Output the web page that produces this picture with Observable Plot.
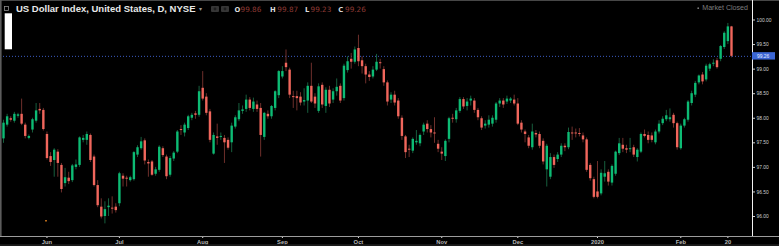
<!DOCTYPE html>
<html><head><meta charset="utf-8">
<script src="https://cdn.jsdelivr.net/npm/d3@7"></script>
<script src="https://cdn.jsdelivr.net/npm/@observablehq/plot@0.6"></script>
<style>
html,body{margin:0;padding:0;background:#000;}
#wrap{position:relative;width:779px;height:246px;overflow:hidden;background:#000;}
#chart svg{display:block;}
#overlay{position:absolute;left:0;top:0;pointer-events:none;}
</style></head><body>
<div id="wrap"><div id="chart"></div><svg id="overlay" width="779" height="246"></svg></div>
<script>
// ---- data ----
const firstDay = "2019-05-16";
const lastDay = "2020-02-21";
const tickDates = ["2019-06-03","2019-07-01","2019-08-01","2019-09-02","2019-10-01","2019-11-01","2019-12-02","2020-01-01","2020-02-03","2020-02-20"];
const tickLabels = ["Jun","Jul","Aug","Sep","Oct","Nov","Dec","2020","Feb","20"];
const yTicks = [96, 96.5, 97, 97.5, 98, 98.5, 99, 99.5, 100];

const opens = [
97.58,97.86,97.99,97.94,98.04,98.08,97.86,97.59,97.76,97.94,
98.18,98.16,97.67,97.22,97.14,97.31,97.04,96.67,96.78,96.73,
97.00,97.04,97.55,97.55,97.65,97.21,96.63,96.19,96.00,96.18,
96.17,96.19,96.26,96.82,96.78,96.73,96.75,97.25,97.38,97.54,
97.10,97.11,96.86,96.94,97.38,97.21,96.84,97.17,97.31,97.77,
97.70,97.79,98.00,98.09,98.06,98.61,98.43,98.13,97.27,97.62,
97.61,97.59,97.55,97.50,97.82,97.97,98.14,98.18,98.37,98.18,
98.27,98.20,97.61,98.08,98.03,98.20,98.46,98.84,99.12,98.98,
98.44,98.44,98.43,98.33,98.35,98.65,98.43,98.14,98.67,98.24,
98.57,98.37,98.54,98.65,98.40,98.97,99.20,99.14,99.42,99.17,
99.05,98.88,98.84,98.98,99.13,98.99,98.72,98.37,98.47,98.35,
98.00,97.62,97.37,97.33,97.50,97.48,97.72,97.88,97.77,97.70,
97.47,97.31,97.22,97.57,98.00,97.97,98.14,98.38,98.24,98.35,
98.35,98.16,97.99,97.84,97.86,97.88,97.96,98.29,98.35,98.33,
98.35,98.37,98.29,97.90,97.72,97.60,97.40,97.69,97.67,97.53,
96.95,96.80,97.20,97.16,97.25,97.43,97.40,97.70,97.70,97.69,
97.64,97.56,97.04,96.75,96.50,96.46,96.80,96.90,96.68,96.86,
97.28,97.45,97.38,97.36,97.40,97.20,97.31,97.67,97.65,97.64,
97.50,97.72,97.89,97.97,97.97,98.06,97.89,97.38,97.84,97.96,
98.30,98.47,98.72,98.88,98.78,99.00,99.10,99.17,99.20,99.44,
99.56,99.86];
const highs = [
97.96,98.08,98.03,98.12,98.10,98.39,97.90,97.66,98.00,98.30,
98.30,98.20,97.72,97.30,97.38,97.36,97.08,96.98,96.90,97.06,
97.15,97.62,97.65,97.72,97.68,97.25,96.73,96.36,96.30,96.36,
96.40,96.26,96.90,96.87,96.82,96.82,97.32,97.44,97.61,97.58,
97.15,97.14,97.00,97.44,97.42,97.25,97.22,97.32,97.75,97.85,
97.90,98.06,98.10,98.14,98.65,98.95,98.50,98.18,97.70,97.88,
97.70,97.65,97.60,97.90,98.05,98.30,98.25,98.47,98.42,98.41,
98.35,98.30,98.12,98.15,98.26,98.56,98.97,99.05,99.39,99.02,
98.55,98.55,98.52,98.60,98.72,99.12,98.50,98.70,98.72,98.62,
98.65,98.60,98.80,98.70,99.10,99.25,99.32,99.45,99.69,99.25,
99.10,98.95,99.05,99.30,99.20,99.05,98.76,98.52,98.55,98.40,
98.05,97.65,97.45,97.60,97.75,97.68,97.90,97.95,97.85,98.01,
97.55,97.40,97.56,98.02,98.08,98.20,98.42,98.42,98.40,98.45,
98.40,98.20,98.03,97.95,98.05,98.05,98.32,98.40,98.40,98.45,
98.42,98.47,98.40,97.95,97.76,97.65,97.88,97.75,97.72,97.58,
97.47,97.28,97.25,97.30,97.48,97.48,97.80,97.82,97.78,97.79,
97.70,97.60,97.08,96.80,97.12,96.95,97.12,96.95,97.05,97.33,
97.59,97.59,97.45,97.59,97.45,97.38,97.70,97.76,97.72,97.70,
97.76,97.95,98.03,98.16,98.19,98.10,97.92,97.88,98.00,98.36,
98.55,98.75,98.88,98.93,99.10,99.12,99.19,99.22,99.48,99.76,
99.93,99.87];
const lows = [
97.49,97.82,97.92,97.90,98.00,97.85,97.58,97.56,97.70,97.90,
98.08,97.74,97.15,97.02,96.80,96.80,96.48,96.60,96.65,96.69,
96.95,97.00,97.50,97.45,97.10,96.60,96.18,95.95,95.85,96.00,
96.05,96.07,96.20,96.60,96.60,96.70,96.72,97.20,97.35,97.05,
96.80,96.82,96.82,96.90,97.20,96.75,96.80,97.12,97.28,97.65,
97.62,97.75,97.95,97.98,98.02,98.35,98.05,97.50,97.25,97.45,
97.55,97.08,97.35,97.30,97.78,97.93,98.08,98.12,98.15,98.12,
98.12,97.21,97.55,97.98,97.98,98.15,98.40,98.80,98.95,98.40,
98.20,98.15,98.25,98.25,98.10,98.30,98.20,98.10,98.20,98.10,
98.22,98.30,98.45,98.30,98.35,98.92,99.00,99.10,99.05,98.90,
98.70,98.75,98.80,98.95,99.00,98.65,98.25,98.30,98.25,97.98,
97.55,97.18,97.20,97.28,97.45,97.42,97.65,97.70,97.60,97.49,
97.30,97.14,97.12,97.50,97.90,97.90,98.10,98.18,98.15,98.25,
98.10,97.95,97.75,97.78,97.80,97.82,97.90,98.22,98.20,98.28,
98.30,98.25,97.85,97.70,97.50,97.38,97.35,97.60,97.38,97.05,
96.60,96.75,96.98,97.10,97.20,97.32,97.36,97.55,97.60,97.62,
97.50,96.90,96.72,96.36,96.36,96.42,96.70,96.62,96.62,96.82,
97.24,97.30,97.28,97.30,97.20,97.11,97.28,97.60,97.48,97.50,
97.46,97.68,97.85,97.93,97.92,97.80,97.35,97.35,97.80,97.92,
98.25,98.42,98.68,98.68,98.74,98.95,99.05,99.00,99.15,99.40,
99.50,99.23];
const closes = [
97.90,98.03,97.96,98.08,98.07,97.88,97.63,97.63,97.97,98.15,
98.15,97.77,97.18,97.10,97.35,97.08,96.55,96.79,96.71,97.03,
97.05,97.60,97.59,97.67,97.14,96.63,96.22,95.99,96.14,96.21,
96.15,96.12,96.87,96.76,96.76,96.79,97.30,97.40,97.52,97.13,
97.07,96.84,96.95,97.41,97.24,96.81,97.18,97.29,97.72,97.75,
97.86,98.03,98.06,98.06,98.54,98.39,98.10,97.55,97.65,97.59,
97.63,97.50,97.39,97.84,98.01,98.15,98.17,98.37,98.20,98.33,
98.18,97.65,98.10,98.03,98.24,98.54,98.95,98.95,99.03,98.47,
98.42,98.40,98.31,98.36,98.65,98.33,98.29,98.64,98.27,98.57,
98.29,98.54,98.63,98.35,99.06,99.15,99.14,99.39,99.15,99.05,
98.88,98.83,98.98,99.14,99.11,98.72,98.33,98.47,98.31,98.03,
97.63,97.30,97.35,97.57,97.53,97.65,97.86,97.77,97.70,97.68,
97.37,97.27,97.53,97.99,97.98,98.15,98.38,98.23,98.33,98.39,
98.16,98.01,97.80,97.88,97.96,98.00,98.29,98.35,98.27,98.39,
98.39,98.29,97.88,97.76,97.67,97.43,97.72,97.66,97.43,97.11,
97.43,97.20,97.04,97.25,97.43,97.40,97.71,97.68,97.68,97.67,
97.56,96.94,96.77,96.39,96.39,96.88,96.87,96.70,97.02,97.31,
97.48,97.37,97.35,97.38,97.25,97.35,97.67,97.63,97.55,97.55,
97.72,97.88,97.98,98.05,98.01,97.89,97.40,97.84,97.97,98.33,
98.50,98.71,98.86,98.74,99.06,99.09,99.12,99.03,99.46,99.73,
99.86,99.26];

// ---- build table ----
const fmt = d3.utcFormat("%Y-%m-%d");
const days = d3.utcDays(new Date(firstDay), d3.utcDay.offset(new Date(lastDay), 1))
  .filter(d => d.getUTCDay() !== 0 && d.getUTCDay() !== 6);
const candles = days.slice(0, opens.length).map((d, i) => ({
  i, date: fmt(d), open: opens[i], high: highs[i], low: lows[i], close: closes[i]
}));
const tickIdx = tickDates.map(s => candles.findIndex(c => c.date === s));
const labelAt = new Map(tickIdx.map((t, k) => [t, tickLabels[k]]));
const last = candles[candles.length - 1];

const UP = "#0dbb74", DOWN = "#f0665c", WUP = "#1a6a45", WDOWN = "#7a3430";
const isUp = d => d.close >= d.open;

const chart = Plot.plot({
  width: 779, height: 246,
  marginLeft: 0, marginRight: 27, marginTop: 0, marginBottom: 10,
  style: {background: "#000", color: "#c4c4c4", fontFamily: "'Liberation Sans', Arial, sans-serif", overflow: "visible"},
  x: {type: "linear", domain: [-0.83, 206.8], label: null},
  y: {type: "linear", domain: [95.593, 100.397], label: null},
  color: {type: "identity"},
  marks: [
    Plot.ruleY([last.close], {stroke: "#3b5cc2", strokeWidth: 1, strokeDasharray: "1,2"}),
    Plot.ruleX(candles, {x: "i", y1: "low", y2: "high", stroke: d => isUp(d) ? WUP : WDOWN, strokeWidth: 0.9}),
    Plot.ruleX(candles, {x: "i", y1: "open", y2: "close", stroke: d => isUp(d) ? UP : DOWN, strokeWidth: 2.4}),
    Plot.axisY(yTicks, {anchor: "right", label: null, tickFormat: d => d.toFixed(2), tickSize: 2, tickPadding: 2, fontSize: 4.9, fill: "#cfcfcf", stroke: "#cfcfcf"}),
    Plot.axisX(tickIdx, {anchor: "bottom", label: null, tickFormat: i => labelAt.get(i), tickSize: 2, tickPadding: 1, fontSize: 5.8, fontWeight: "bold", fill: "#b8b8b8", stroke: "#dddddd"})
  ]
});
document.getElementById("chart").appendChild(chart);

// ---- chrome overlay ----
const yPrice = chart.scale("y").apply(last.close);
const ov = d3.select("#overlay");
ov.append("rect").attr("x", 0).attr("y", 0).attr("width", 779).attr("height", 1).attr("fill", "#474747");
ov.append("rect").attr("x", 0).attr("y", 0).attr("width", 1.6).attr("height", 236).attr("fill", "#5c5c5c");
ov.append("rect").attr("x", 752).attr("y", 0).attr("width", 1).attr("height", 236).attr("fill", "#f2f2f2");
ov.append("rect").attr("x", 0).attr("y", 236).attr("width", 779).attr("height", 1).attr("fill", "#9c9c9c");
ov.append("rect").attr("x", 0).attr("y", 244.2).attr("width", 779).attr("height", 2).attr("fill", "#1c1c1c");
ov.append("rect").attr("x", 752).attr("y", yPrice - 3.7).attr("width", 23).attr("height", 7.4).attr("fill", "#3b66d4");
ov.append("text").attr("x", 757).attr("y", yPrice + 1.7).attr("font-family", "'Liberation Sans', Arial").attr("font-size", 4.9).attr("fill", "#e6ebff").text(last.close.toFixed(2));
ov.append("rect").attr("x", 4.7).attr("y", 13.3).attr("width", 7.3).attr("height", 36).attr("fill", "#ffffff");
ov.append("rect").attr("x", 4.5).attr("y", 6.5).attr("width", 4).attr("height", 4).attr("fill", "none").attr("stroke", "#8a8a8a").attr("stroke-width", 0.8);
ov.append("rect").attr("x", 45).attr("y", 220).attr("width", 2).attr("height", 1.5).attr("fill", "#b5681a");

ov.append("text").attr("x", 16).attr("y", 11.8).attr("font-family", "'Liberation Sans', Arial").attr("font-weight", "bold").attr("font-size", 9.5).attr("fill", "#e8e8e8").text("US Dollar Index, United States, D, NYSE");
ov.append("text").attr("x", 199).attr("y", 11).attr("font-family", "'DejaVu Sans'").attr("font-size", 6).attr("fill", "#9a9a9a").text("▾");
[211, 221].forEach(x => {
  ov.append("rect").attr("x", x).attr("y", 6).attr("width", 8).attr("height", 6).attr("rx", 1).attr("fill", "#363636");
  ov.append("circle").attr("cx", x + 4).attr("cy", 9).attr("r", 1.4).attr("fill", "#1e1e1e");
});
const ohlc = [["O", last.open, 234.5, 240.5], ["H", last.high, 270, 277.3], ["L", last.low, 305, 310.5], ["C", last.close, 338.3, 345]];
ohlc.forEach(([k, v, xk, xv]) => {
  ov.append("text").attr("x", xk).attr("y", 11.7).attr("font-family", "'DejaVu Sans'").attr("font-weight", "bold").attr("font-size", 6.8).attr("fill", "#dcdcdc").text(k);
  ov.append("text").attr("x", xv).attr("y", 11.7).attr("font-family", "'DejaVu Sans'").attr("font-size", 7.3).attr("fill", "#8e3a35").text(v.toFixed(2));
});
ov.append("circle").attr("cx", 698.2).attr("cy", 8.2).attr("r", 0.9).attr("fill", "#7a7a7a");
ov.append("text").attr("x", 748).attr("y", 10.2).attr("text-anchor", "end").attr("font-family", "'Liberation Sans', Arial").attr("font-size", 7.1).attr("fill", "#7e7e7e").text("Market Closed");
</script>
</body></html>
